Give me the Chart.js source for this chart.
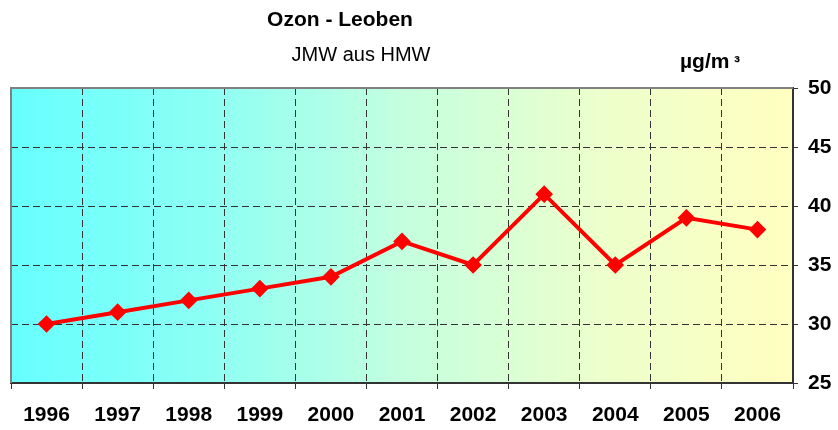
<!DOCTYPE html>
<html>
<head>
<meta charset="utf-8">
<script src="https://cdn.jsdelivr.net/npm/chart.js@4/dist/chart.umd.min.js"></script>
<style>
  html, body { margin: 0; padding: 0; background: #fff; }
  #wrap { width: 838px; height: 430px; position: relative; }
</style>
</head>
<body>
<div id="wrap"><canvas id="ozon" width="838" height="430"></canvas></div>
<script>
const years = ['1996', '1997', '1998', '1999', '2000', '2001', '2002', '2003', '2004', '2005', '2006'];
const ozonJmw = [30, 31, 32, 33, 34, 37, 35, 41, 35, 39, 38];
const yMin = 25;
const yMax = 50;
const yStep = 5;

const FONT = "'Liberation Sans', Arial, sans-serif";

// gradient background + gray top/left frame, headings
const backdrop = {
  id: 'backdrop',
  beforeDraw(chart) {
    const {ctx, chartArea: a} = chart;
    const g = ctx.createLinearGradient(a.left, 0, a.right, 0);
    g.addColorStop(0, '#66ffff');
    g.addColorStop(0.25, '#8cfff4');
    g.addColorStop(0.5, '#c4ffdf');
    g.addColorStop(0.75, '#ecffcc');
    g.addColorStop(1, '#ffffc0');
    ctx.save();
    ctx.fillStyle = g;
    ctx.fillRect(a.left, a.top, a.right - a.left, a.bottom - a.top);
    ctx.restore();
  },
  afterDraw(chart) {
    const {ctx, chartArea: a} = chart;
    ctx.save();
    ctx.strokeStyle = '#808080';
    ctx.lineWidth = 2;
    ctx.beginPath();
    ctx.moveTo(a.left, a.bottom);
    ctx.lineTo(a.left, a.top);
    ctx.lineTo(a.right, a.top);
    ctx.stroke();

    ctx.fillStyle = '#000';
    ctx.textAlign = 'center';
    ctx.textBaseline = 'middle';
    ctx.font = 'bold 21px ' + FONT;
    ctx.fillText('Ozon - Leoben', 340, 20);
    ctx.font = '20px ' + FONT;
    ctx.fillText('JMW aus HMW', 361, 55);
    ctx.textAlign = 'left';
    ctx.textBaseline = 'alphabetic';
    ctx.font = 'bold 21px ' + FONT;
    ctx.fillText('µg/m', 680, 68);
    ctx.font = 'bold 18px ' + FONT;
    ctx.fillText('³', 734, 68);
    ctx.restore();
  }
};

const edgeHidden = (n) => (c) => (c.index === 0 || c.index === n) ? 'rgba(0,0,0,0)' : '#333333';

new Chart(document.getElementById('ozon'), {
  type: 'line',
  data: {
    labels: years,
    datasets: [{
      label: 'Ozon',
      data: ozonJmw,
      borderColor: '#ff0000',
      backgroundColor: '#ff0000',
      borderWidth: 4,
      pointStyle: 'rectRot',
      pointRadius: 6,
      pointHoverRadius: 6,
      tension: 0
    }]
  },
  options: {
    responsive: false,
    animation: false,
    layout: { padding: { left: 11, top: 88, right: 0, bottom: 0 } },
    plugins: {
      legend: { display: false },
      title: { display: false },
      tooltip: { enabled: false }
    },
    scales: {
      x: {
        offset: true,
        grid: {
          offset: true,
          color: edgeHidden(years.length),
          lineWidth: 1,
          tickLength: 6,
          tickColor: '#333333'
        },
        border: { display: true, color: '#333333', width: 2, dash: [7, 4] },
        ticks: {
          color: '#000',
          padding: 14,
          maxRotation: 0,
          autoSkip: false,
          font: { family: FONT, size: 21, weight: 'bold' }
        },
        afterFit(scale) { scale.height = 47; }
      },
      y: {
        position: 'right',
        min: yMin,
        max: yMax,
        grid: {
          color: edgeHidden((yMax - yMin) / yStep),
          lineWidth: 1,
          tickLength: 5,
          tickColor: '#333333'
        },
        border: { display: true, color: '#333333', width: 2, dash: [7, 4] },
        ticks: {
          stepSize: yStep,
          color: '#000',
          padding: 10,
          font: { family: FONT, size: 21, weight: 'bold' }
        },
        afterFit(scale) { scale.width = 45; }
      }
    }
  },
  plugins: [backdrop]
});
</script>
</body>
</html>
